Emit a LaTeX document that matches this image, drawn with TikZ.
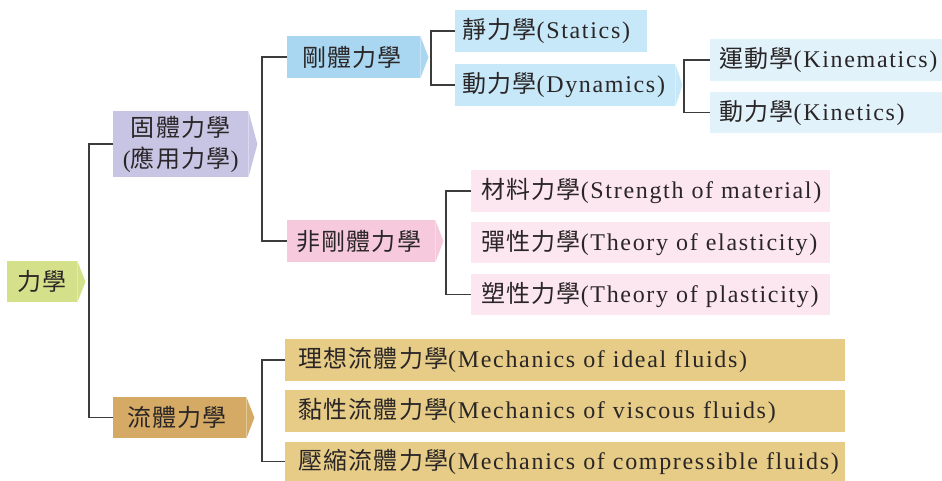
\documentclass[tikz,border=0pt]{standalone}
\usepackage{fontspec}
\setmainfont{Liberation Serif}[LetterSpace=7, WordSpace=0.6]
\newfontfamily\cjk{Noto Sans CJK TC}[LetterSpace=5]
\newcommand\zh[1]{{\cjk #1}}
\newcommand\lt[2]{\hspace*{#1pt}\mbox{#2}}
\definecolor{tx}{HTML}{2A2627}
\definecolor{ln}{HTML}{3C3C3C}
\definecolor{cRoot}{HTML}{D4E08A}
\definecolor{cSolid}{HTML}{C8C4E4}
\definecolor{cRigid}{HTML}{A9D6F0}
\definecolor{cRigidK}{HTML}{C6E8F8}
\definecolor{cDyn}{HTML}{E1F2FA}
\definecolor{cNon}{HTML}{F6C9DC}
\definecolor{cNonK}{HTML}{FCE6EF}
\definecolor{cFluid}{HTML}{D4AA64}
\definecolor{cFluidK}{HTML}{E6CC86}
\tikzset{
  box/.style={rectangle, anchor=north west, inner xsep=0pt, inner ysep=0pt,
    align=left, text=tx, font=\fontsize{24}{31}\selectfont},
  conn/.style={draw=ln, line width=1.5pt},
}
\begin{document}
\begin{tikzpicture}[x=1pt, y=-1pt]
\useasboundingbox (0,0) rectangle (942,481);
% main nodes
\node[box, fill=cRoot, text width=70pt, minimum height=41pt] (root) at (7,261) {\lt{10}{\zh{力學}}};
\node[box, fill=cSolid, text width=135pt, minimum height=66pt, align=center] (solid) at (113,111) {\zh{固體力學}\\(\zh{應用力學})};
\node[box, fill=cRigid, text width=133pt, minimum height=42pt] (rigid) at (287,36) {\lt{15}{\zh{剛體力學}}};
\node[box, fill=cRigidK, text width=192pt, minimum height=42pt] (statics) at (455,10) {\lt{7}{\zh{靜力學}(Statics)}};
\node[box, fill=cRigidK, text width=220pt, minimum height=42pt] (dynamics) at (455,64) {\lt{7}{\zh{動力學}(Dynamics)}};
\node[box, fill=cDyn, text width=232pt, minimum height=42pt] (kinematics) at (710,39) {\lt{9}{\zh{運動學}(Kinematics)}};
\node[box, fill=cDyn, text width=232pt, minimum height=41pt] (kinetics) at (710,92) {\lt{9}{\zh{動力學}(Kinetics)}};
\node[box, fill=cNon, text width=148pt, minimum height=42pt] (nonrigid) at (287,220) {\lt{9}{\zh{非剛體力學}}};
\node[box, fill=cNonK, text width=359pt, minimum height=42pt] (material) at (471,170) {\lt{10}{\zh{材料力學}(Strength of material)}};
\node[box, fill=cNonK, text width=359pt, minimum height=41pt] (elastic) at (471,222) {\lt{10}{\zh{彈性力學}(Theory of elasticity)}};
\node[box, fill=cNonK, text width=359pt, minimum height=41pt] (plastic) at (471,274) {\lt{10}{\zh{塑性力學}(Theory of plasticity)}};
\node[box, fill=cFluid, text width=133pt, minimum height=41pt] (fluid) at (113,397) {\lt{14}{\zh{流體力學}}};
\node[box, fill=cFluidK, text width=560pt, minimum height=42pt] (ideal) at (285,339) {\lt{13}{\zh{理想流體力學}(Mechanics of ideal fluids)}};
\node[box, fill=cFluidK, text width=560pt, minimum height=42pt] (viscous) at (285,390) {\lt{13}{\zh{黏性流體力學}(Mechanics of viscous fluids)}};
\node[box, fill=cFluidK, text width=560pt, minimum height=39pt] (compress) at (285,442) {\lt{13}{\zh{壓縮流體力學}(Mechanics of compressible fluids)}};
% arrow tips
\fill[cRoot] (root.north east) -- ([xshift=8pt]root.east) -- (root.south east) -- cycle;
\fill[cSolid] (solid.north east) -- ([xshift=9pt]solid.east) -- (solid.south east) -- cycle;
\fill[cRigid] (rigid.north east) -- ([xshift=8pt]rigid.east) -- (rigid.south east) -- cycle;
\fill[cRigidK] (dynamics.north east) -- ([xshift=7pt]dynamics.east) -- (dynamics.south east) -- cycle;
\fill[cNon] (nonrigid.north east) -- ([xshift=8pt]nonrigid.east) -- (nonrigid.south east) -- cycle;
\fill[cFluid] (fluid.north east) -- ([xshift=8pt]fluid.east) -- (fluid.south east) -- cycle;
% connectors
\draw[conn] (solid.west) -- ++(-24,0) |- (fluid.west);
\draw[conn] (rigid.west) -- ++(-25,0) |- (nonrigid.west);
\draw[conn] (statics.west) -- ++(-24,0) |- (dynamics.west);
\draw[conn] (kinematics.west) -- ++(-26,0) |- (kinetics.west);
\draw[conn] (material.west) -- ++(-25,0) |- (plastic.west);
\draw[conn] (ideal.west) -- ++(-23,0) |- (compress.west);
\end{tikzpicture}
\end{document}
